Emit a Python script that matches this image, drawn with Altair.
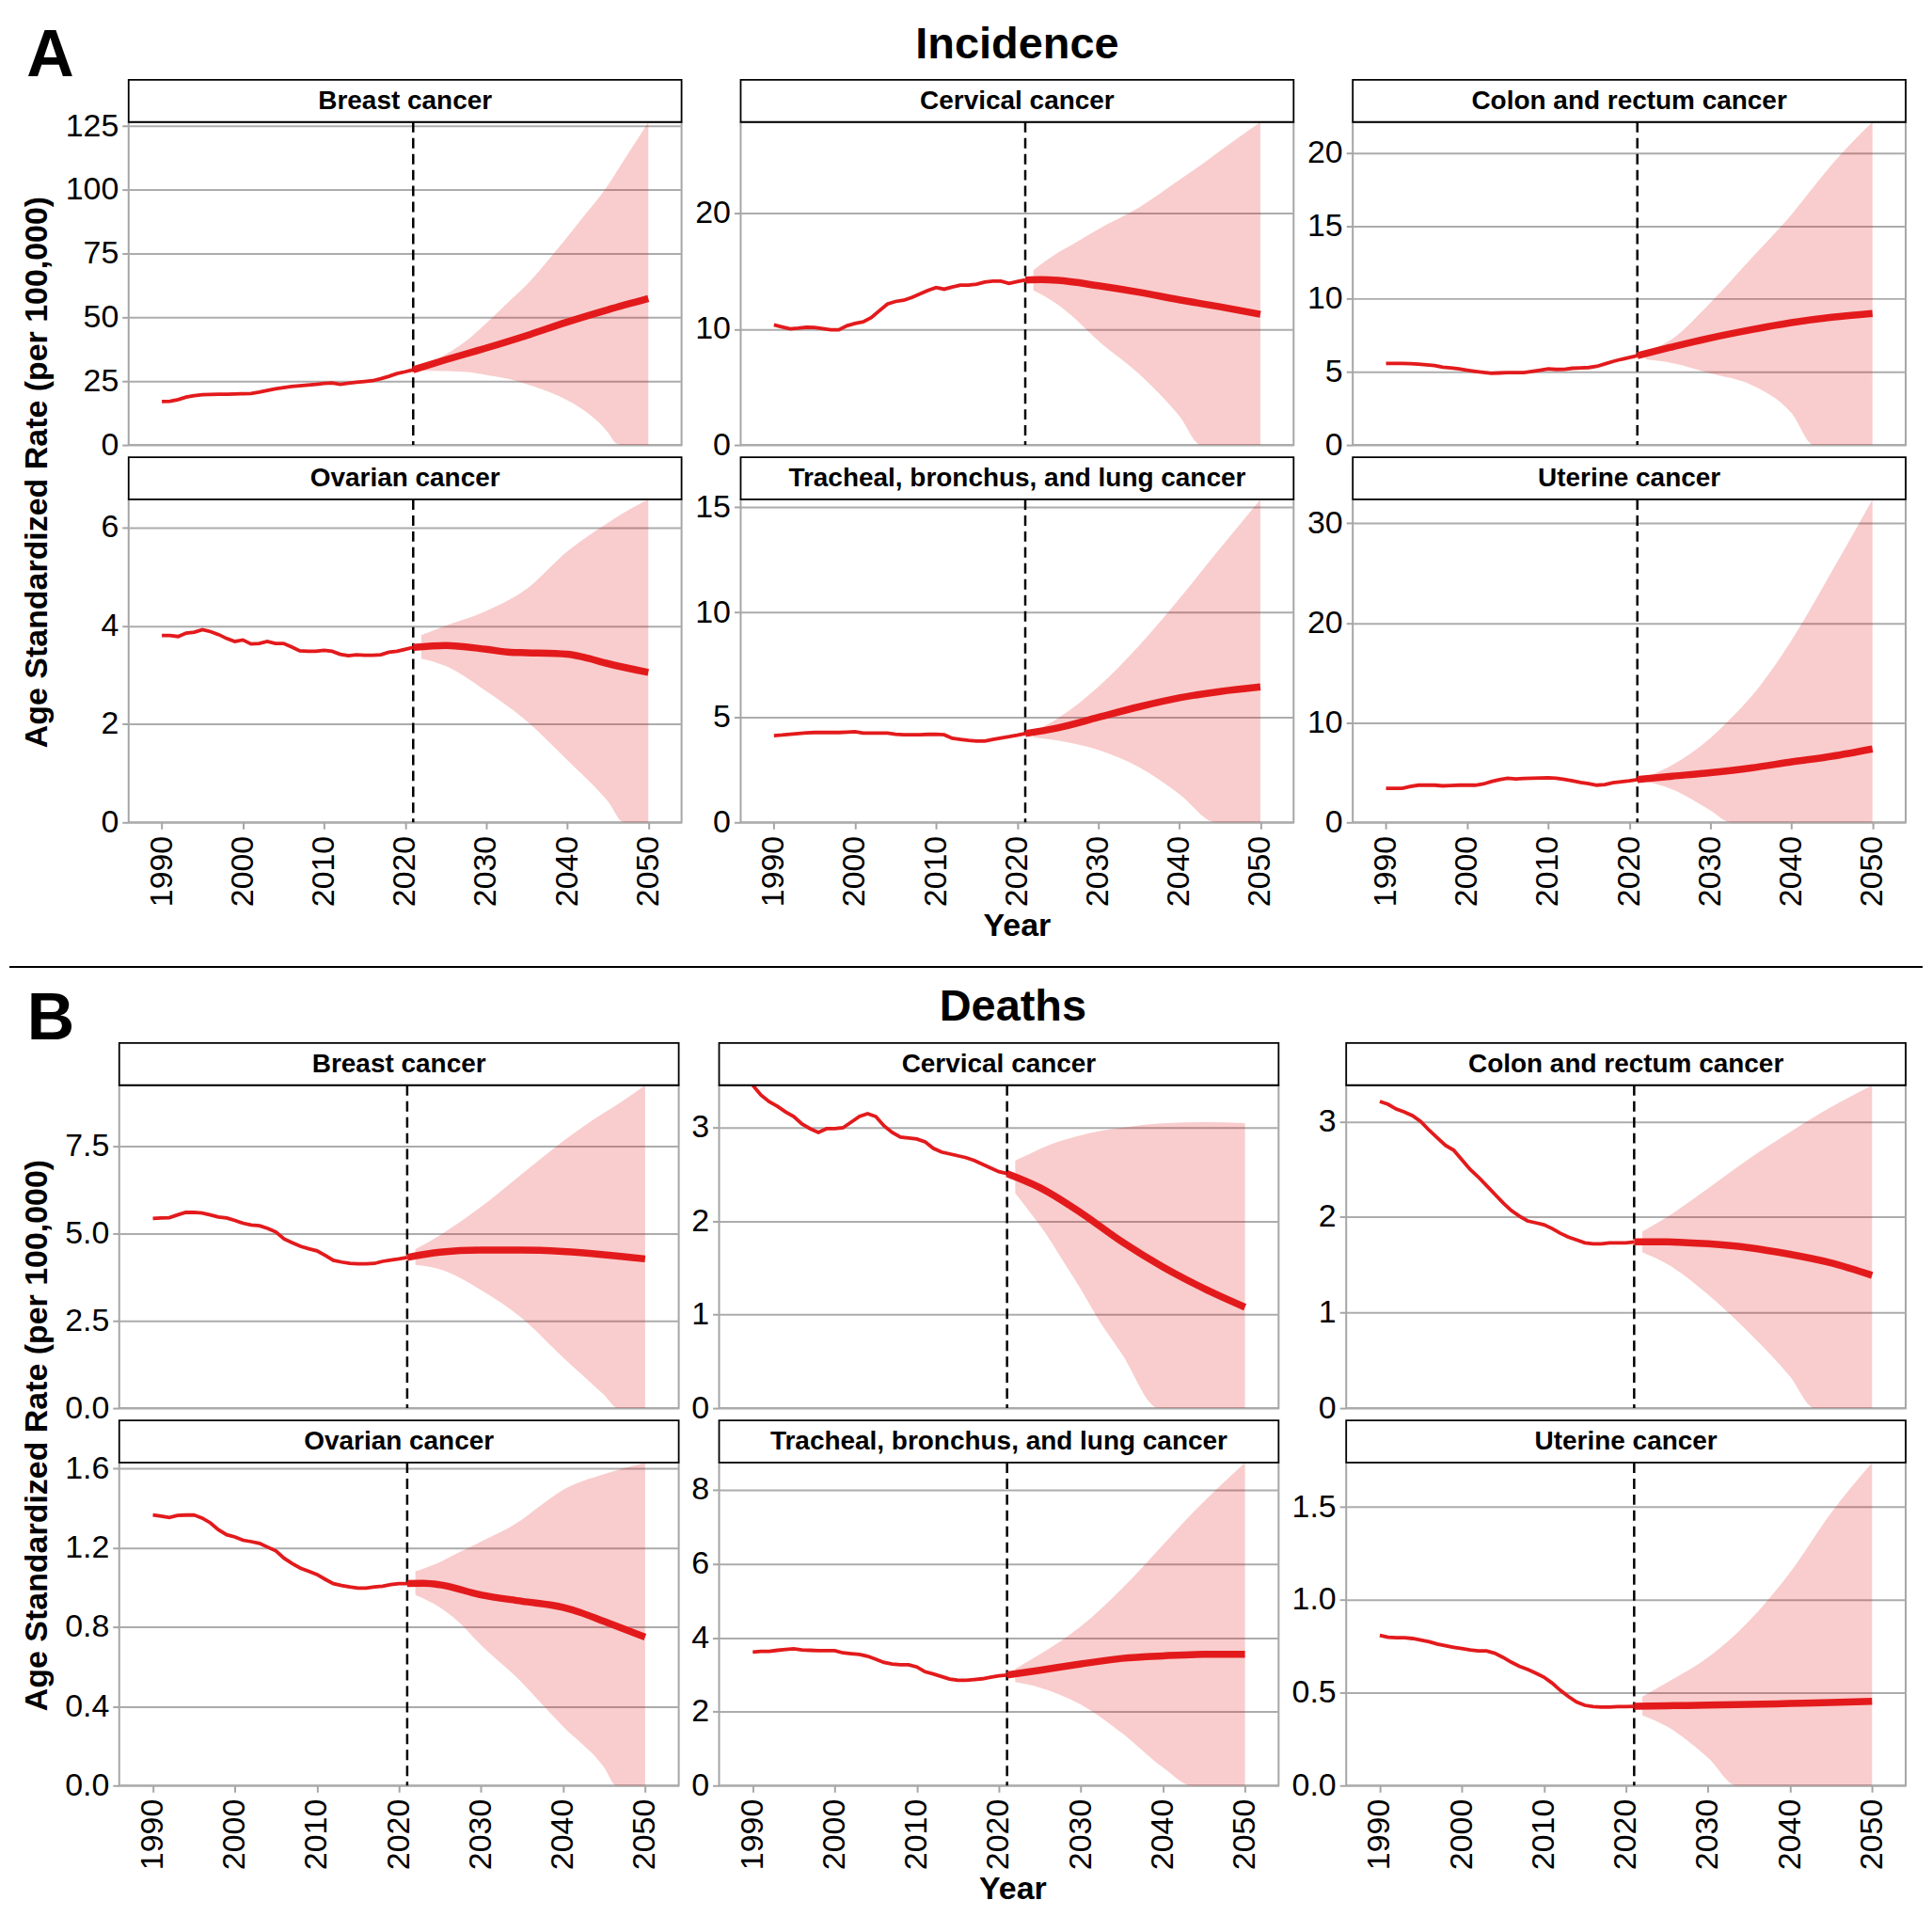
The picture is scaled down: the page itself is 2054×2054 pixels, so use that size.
import altair as alt
import pandas as pd

FONT = "Liberation Sans, Arial, Helvetica, sans-serif"
RED = "#E31A1C"
BAND_OPACITY = 0.22
GRID = "#acacac"
BORDER = "#a6a6a6"

HIST_YEARS = list(range(1990, 2022))
X_TICKS = [1990, 2000, 2010, 2020, 2030, 2040, 2050]
X_DOMAIN = [1985.9, 2054.1]
FORECAST_START = [2021]

TITLES = ["Breast cancer", "Cervical cancer", "Colon and rectum cancer",
          "Ovarian cancer", "Tracheal, bronchus, and lung cancer", "Uterine cancer"]

# ---------------- A: Incidence ----------------
inc_breast_hist = [17.0, 17.1, 17.8, 18.8, 19.3, 19.7, 19.8, 19.9, 19.9, 20.0, 20.1, 20.2, 20.7, 21.4, 22.0, 22.5,
                   22.9, 23.2, 23.5, 23.8, 24.1, 24.3, 23.8, 24.2, 24.6, 24.9, 25.2, 26.0, 26.9, 28.0, 28.7, 29.5]
inc_breast_fc_years = [2021, 2025, 2030, 2035, 2040, 2045, 2050]
inc_breast_fc = [29.5, 33.4, 38.0, 42.9, 48.2, 53.0, 57.4]
inc_breast_band_years = [2022, 2025, 2028, 2030, 2033, 2035, 2038, 2040, 2042, 2044, 2045, 2046, 2047, 2048, 2050]
inc_breast_lower = [29.2, 29.0, 28.5, 27.4, 25.7, 23.8, 20.5, 17.5, 13.7, 8.5, 5.0, 0.8, 0, 0, 0]
inc_breast_upper = [30.3, 35.5, 42.0, 47.7, 56.8, 62.8, 73.8, 81.5, 89.5, 97.4, 101.7, 106.7, 111.7, 116.6, 126.6]

inc_cerv_hist = [10.37, 10.2, 10.04, 10.1, 10.18, 10.15, 10.05, 9.95, 9.95, 10.3, 10.5, 10.64, 11.0, 11.6, 12.18, 12.40,
                 12.5, 12.75, 13.05, 13.35, 13.6, 13.46, 13.65, 13.81, 13.81, 13.9, 14.08, 14.15, 14.15, 13.95, 14.11, 14.25]
inc_cerv_fc_years = [2021, 2023, 2025, 2030, 2035, 2040, 2045, 2050]
inc_cerv_fc = [14.25, 14.28, 14.22, 13.76, 13.2, 12.54, 11.94, 11.29]
inc_cerv_band_years = [2022, 2025, 2027, 2030, 2035, 2040, 2042.7, 2045, 2050]
inc_cerv_lower = [13.35, 12.13, 11.0, 9.0, 6.16, 2.5, 0, 0, 0]
inc_cerv_upper = [15.1, 16.6, 17.4, 18.64, 20.5, 22.9, 24.2, 25.4, 27.9]

inc_crc_hist = [5.58, 5.58, 5.58, 5.56, 5.53, 5.48, 5.43, 5.32, 5.27, 5.21, 5.12, 5.04, 4.97, 4.91, 4.93, 4.95,
                4.95, 4.95, 5.03, 5.12, 5.21, 5.17, 5.18, 5.25, 5.28, 5.30, 5.38, 5.55, 5.72, 5.86, 5.98, 6.11]
inc_crc_fc_years = [2021, 2025, 2030, 2035, 2040, 2045, 2050]
inc_crc_fc = [6.11, 6.67, 7.32, 7.88, 8.37, 8.74, 9.0]
inc_crc_band_years = [2022, 2025, 2030, 2035, 2040, 2042.8, 2045, 2050]
inc_crc_lower = [5.86, 5.64, 4.9, 4.13, 2.2, 0, 0, 0]
inc_crc_upper = [6.39, 7.15, 9.73, 12.74, 15.76, 17.7, 19.2, 22.1]

inc_ov_hist = [3.80, 3.80, 3.78, 3.85, 3.87, 3.92, 3.88, 3.82, 3.74, 3.68, 3.71, 3.63, 3.64, 3.68, 3.64, 3.64,
               3.57, 3.49, 3.48, 3.48, 3.50, 3.48, 3.42, 3.39, 3.41, 3.40, 3.40, 3.41, 3.46, 3.48, 3.52, 3.56]
inc_ov_fc_years = [2021, 2025, 2030, 2033, 2035, 2040, 2042, 2045, 2050]
inc_ov_fc = [3.56, 3.60, 3.52, 3.46, 3.45, 3.42, 3.36, 3.23, 3.05]
inc_ov_band_years = [2022, 2025, 2030, 2035, 2040, 2045, 2047, 2050]
inc_ov_lower = [3.33, 3.18, 2.67, 2.06, 1.27, 0.43, 0, 0]
inc_ov_upper = [3.81, 4.0, 4.30, 4.75, 5.51, 6.09, 6.3, 6.57]

inc_lung_hist = [4.13, 4.16, 4.2, 4.23, 4.26, 4.28, 4.28, 4.28, 4.28, 4.3, 4.32, 4.25, 4.25, 4.25, 4.25, 4.2,
                 4.17, 4.17, 4.17, 4.19, 4.2, 4.17, 4.0, 3.95, 3.9, 3.87, 3.87, 3.95, 4.02, 4.08, 4.15, 4.23]
inc_lung_fc_years = [2021, 2025, 2030, 2035, 2040, 2045, 2050]
inc_lung_fc = [4.23, 4.5, 5.0, 5.5, 5.93, 6.23, 6.45]
inc_lung_band_years = [2022, 2025, 2030, 2035, 2040, 2044.5, 2050]
inc_lung_lower = [4.05, 3.9, 3.45, 2.63, 1.35, 0, 0]
inc_lung_upper = [4.32, 4.95, 6.45, 8.4, 10.65, 12.8, 15.38]

inc_ut_hist = [3.41, 3.41, 3.41, 3.6, 3.73, 3.75, 3.73, 3.66, 3.7, 3.73, 3.73, 3.73, 3.85, 4.1, 4.29, 4.42,
               4.36, 4.4, 4.42, 4.45, 4.48, 4.42, 4.3, 4.17, 4.0, 3.88, 3.73, 3.79, 3.98, 4.08, 4.17, 4.29]
inc_ut_fc_years = [2021, 2025, 2030, 2035, 2040, 2045, 2050]
inc_ut_fc = [4.29, 4.61, 4.99, 5.46, 6.06, 6.63, 7.36]
inc_ut_band_years = [2022, 2025, 2030, 2032.5, 2035, 2040, 2045, 2050]
inc_ut_lower = [4.1, 3.41, 1.2, 0, 0, 0, 0, 0]
inc_ut_upper = [4.52, 5.62, 8.46, 10.4, 12.57, 18.25, 25.2, 32.4]

# ---------------- B: Deaths ----------------
dth_breast_hist = [5.43, 5.44, 5.45, 5.53, 5.60, 5.60, 5.58, 5.53, 5.47, 5.44, 5.37, 5.29, 5.24, 5.22, 5.14, 5.04,
                   4.84, 4.73, 4.63, 4.56, 4.50, 4.37, 4.23, 4.18, 4.14, 4.13, 4.13, 4.14, 4.20, 4.24, 4.27, 4.31]
dth_breast_fc_years = [2021, 2025, 2030, 2035, 2040, 2045, 2050]
dth_breast_fc = [4.31, 4.46, 4.52, 4.52, 4.48, 4.39, 4.27]
dth_breast_band_years = [2022, 2025, 2030, 2035, 2040, 2045, 2046.7, 2050]
dth_breast_lower = [4.10, 3.97, 3.38, 2.57, 1.45, 0.38, 0, 0]
dth_breast_upper = [4.55, 4.95, 5.76, 6.70, 7.64, 8.45, 8.7, 9.24]

dth_cerv_hist = [3.455, 3.35, 3.28, 3.23, 3.17, 3.12, 3.04, 2.99, 2.95, 2.99, 2.99, 3.0, 3.06, 3.12, 3.15, 3.12,
                 3.02, 2.95, 2.90, 2.89, 2.88, 2.85, 2.78, 2.74, 2.72, 2.70, 2.68, 2.65, 2.61, 2.57, 2.53, 2.51]
dth_cerv_fc_years = [2021, 2025, 2030, 2035, 2040, 2045, 2050]
dth_cerv_fc = [2.51, 2.36, 2.09, 1.78, 1.51, 1.28, 1.08]
dth_cerv_band_years = [2022, 2024, 2026, 2028, 2030, 2032, 2035, 2039.5, 2045, 2050]
dth_cerv_lower = [2.30, 2.07, 1.83, 1.55, 1.27, 0.97, 0.58, 0, 0, 0]
dth_cerv_upper = [2.65, 2.73, 2.81, 2.87, 2.92, 2.96, 3.0, 3.045, 3.06, 3.05]

dth_crc_hist = [3.21, 3.18, 3.13, 3.10, 3.06, 3.0, 2.91, 2.83, 2.75, 2.70, 2.60, 2.50, 2.42, 2.33, 2.24, 2.15,
                2.07, 2.01, 1.96, 1.94, 1.92, 1.88, 1.83, 1.79, 1.76, 1.73, 1.72, 1.72, 1.73, 1.73, 1.73, 1.74]
dth_crc_fc_years = [2021, 2025, 2030, 2035, 2040, 2045, 2050]
dth_crc_fc = [1.74, 1.74, 1.72, 1.68, 1.61, 1.52, 1.39]
dth_crc_band_years = [2022, 2025, 2030, 2035, 2040, 2043, 2045, 2050]
dth_crc_lower = [1.63, 1.51, 1.19, 0.79, 0.33, 0, 0, 0]
dth_crc_upper = [1.85, 2.0, 2.30, 2.61, 2.89, 3.05, 3.15, 3.38]

dth_ov_hist = [1.366, 1.36, 1.353, 1.363, 1.365, 1.366, 1.35, 1.326, 1.291, 1.266, 1.255, 1.238, 1.231, 1.222, 1.203, 1.184,
               1.147, 1.12, 1.097, 1.081, 1.065, 1.041, 1.019, 1.01, 1.002, 0.997, 0.997, 1.002, 1.006, 1.014, 1.019, 1.019]
dth_ov_fc_years = [2021, 2023, 2025, 2030, 2035, 2040, 2042, 2045, 2050]
dth_ov_fc = [1.02, 1.021, 1.013, 0.962, 0.93, 0.899, 0.875, 0.828, 0.749]
dth_ov_band_years = [2022, 2025, 2027, 2030, 2035, 2037, 2040, 2045, 2046.5, 2050]
dth_ov_lower = [0.962, 0.899, 0.836, 0.709, 0.519, 0.43, 0.298, 0.092, 0, 0]
dth_ov_upper = [1.081, 1.128, 1.17, 1.231, 1.342, 1.405, 1.492, 1.571, 1.59, 1.63]

dth_lung_hist = [3.61, 3.63, 3.63, 3.66, 3.68, 3.70, 3.67, 3.66, 3.65, 3.65, 3.65, 3.59, 3.57, 3.55, 3.50, 3.42,
                 3.33, 3.29, 3.27, 3.27, 3.21, 3.08, 3.02, 2.95, 2.88, 2.85, 2.85, 2.87, 2.89, 2.93, 2.97, 2.99]
dth_lung_fc_years = [2021, 2025, 2030, 2035, 2040, 2045, 2050]
dth_lung_fc = [2.99, 3.12, 3.29, 3.44, 3.51, 3.55, 3.55]
dth_lung_band_years = [2022, 2025, 2030, 2035, 2040, 2043.5, 2050]
dth_lung_lower = [2.80, 2.65, 2.19, 1.42, 0.49, 0, 0]
dth_lung_upper = [3.16, 3.55, 4.31, 5.33, 6.51, 7.35, 8.74]

dth_ut_hist = [0.809, 0.799, 0.796, 0.796, 0.792, 0.784, 0.775, 0.762, 0.753, 0.745, 0.738, 0.730, 0.725, 0.725, 0.713, 0.691,
               0.665, 0.643, 0.626, 0.606, 0.584, 0.552, 0.513, 0.479, 0.450, 0.432, 0.425, 0.423, 0.423, 0.425, 0.425, 0.427]
dth_ut_fc_years = [2021, 2025, 2030, 2035, 2040, 2045, 2050]
dth_ut_fc = [0.427, 0.43, 0.433, 0.437, 0.442, 0.447, 0.454]
dth_ut_band_years = [2022, 2025, 2030, 2033.5, 2040, 2045, 2050]
dth_ut_lower = [0.378, 0.318, 0.15, 0, 0, 0, 0]
dth_ut_upper = [0.479, 0.555, 0.691, 0.82, 1.148, 1.469, 1.74]

# y tick values per panel
ticks_inc = [[0, 25, 50, 75, 100, 125], [0, 10, 20], [0, 5, 10, 15, 20], [0, 2, 4, 6], [0, 5, 10, 15], [0, 10, 20, 30]]
ticks_dth = [[0, 2.5, 5, 7.5], [0, 1, 2, 3], [0, 1, 2, 3], [0, 0.4, 0.8, 1.2, 1.6], [0, 2, 4, 6, 8], [0, 0.5, 1, 1.5]]
fmt_inc = ["d", "d", "d", "d", "d", "d"]
fmt_dth = [".1f", "d", "d", ".1f", "d", ".1f"]

# ---------------- layout constants ----------------
W_A = 589
W_B = 596
H = 344
STRIP_H = 45
ROW_SPACING = 58

one = pd.DataFrame({"k": [0]})


def txt(s, x, y, size, angle=0, baseline="alphabetic"):
    return alt.Chart(one).mark_text(text=s, font=FONT, fontSize=size, fontWeight="bold", color="black",
                                    align="center", baseline=baseline, angle=angle).encode(
        x=alt.value(x), y=alt.value(y))


def hrule(x1, x2, y, color, width):
    return alt.Chart(one).mark_rule(color=color, strokeWidth=width).encode(
        x=alt.value(x1), x2=alt.value(x2), y=alt.value(y))


def panel(title, hist, fc_years, fc, band_years, lower, upper, yticks, yfmt, width, bottom, extras=()):
    ymax = max(max(hist), max(fc), max(upper))
    xs = alt.Scale(domain=X_DOMAIN, nice=False, zero=False)
    ys = alt.Scale(domain=[0, ymax], nice=False, zero=False)
    if bottom:
        xax = alt.Axis(values=X_TICKS, format="d", labelAngle=270, grid=False, title=None, labelPadding=7)
    else:
        xax = None
    yax = alt.Axis(values=yticks, format=yfmt, title=None, grid=True)

    d_hist = pd.DataFrame({"year": HIST_YEARS, "v": hist})
    d_fc = pd.DataFrame({"year": fc_years, "v": fc})
    d_band = pd.DataFrame({"year": band_years, "lo": lower, "up": upper})
    d_start = pd.DataFrame({"year": FORECAST_START})

    band = alt.Chart(d_band).mark_area(color=RED, opacity=BAND_OPACITY, interpolate="monotone").encode(
        x=alt.X("year:Q", scale=xs, axis=xax),
        y=alt.Y("lo:Q", scale=ys, axis=yax),
        y2=alt.Y2("up:Q"))
    vline = alt.Chart(d_start).mark_rule(color="black", strokeWidth=2.5, strokeDash=[11, 6]).encode(
        x=alt.X("year:Q", scale=xs, axis=xax))
    hline = alt.Chart(d_hist).mark_line(color=RED, strokeWidth=3.8).encode(
        x=alt.X("year:Q", scale=xs, axis=xax),
        y=alt.Y("v:Q", scale=ys, axis=yax))
    fline = alt.Chart(d_fc).mark_line(color=RED, strokeWidth=7.5, interpolate="monotone").encode(
        x=alt.X("year:Q", scale=xs, axis=xax),
        y=alt.Y("v:Q", scale=ys, axis=yax))
    strip = alt.Chart(one).mark_rect(fill="white", stroke="black", strokeWidth=1.8).encode(
        x=alt.value(0), x2=alt.value(width), y=alt.value(-STRIP_H), y2=alt.value(0))
    strip_text = alt.Chart(one).mark_text(text=title, font=FONT, fontSize=28, fontWeight="bold",
                                          color="black", align="center", baseline="middle").encode(
        x=alt.value(width / 2), y=alt.value(-STRIP_H / 2 + 1))
    layers = [band, vline, hline, fline, strip, strip_text] + list(extras)
    return alt.layer(*layers).properties(width=width, height=H)


YTITLE = "Age Standardized Rate (per 100,000)"

inc = [
    (inc_breast_hist, inc_breast_fc_years, inc_breast_fc, inc_breast_band_years, inc_breast_lower, inc_breast_upper),
    (inc_cerv_hist, inc_cerv_fc_years, inc_cerv_fc, inc_cerv_band_years, inc_cerv_lower, inc_cerv_upper),
    (inc_crc_hist, inc_crc_fc_years, inc_crc_fc, inc_crc_band_years, inc_crc_lower, inc_crc_upper),
    (inc_ov_hist, inc_ov_fc_years, inc_ov_fc, inc_ov_band_years, inc_ov_lower, inc_ov_upper),
    (inc_lung_hist, inc_lung_fc_years, inc_lung_fc, inc_lung_band_years, inc_lung_lower, inc_lung_upper),
    (inc_ut_hist, inc_ut_fc_years, inc_ut_fc, inc_ut_band_years, inc_ut_lower, inc_ut_upper),
]
dth = [
    (dth_breast_hist, dth_breast_fc_years, dth_breast_fc, dth_breast_band_years, dth_breast_lower, dth_breast_upper),
    (dth_cerv_hist, dth_cerv_fc_years, dth_cerv_fc, dth_cerv_band_years, dth_cerv_lower, dth_cerv_upper),
    (dth_crc_hist, dth_crc_fc_years, dth_crc_fc, dth_crc_band_years, dth_crc_lower, dth_crc_upper),
    (dth_ov_hist, dth_ov_fc_years, dth_ov_fc, dth_ov_band_years, dth_ov_lower, dth_ov_upper),
    (dth_lung_hist, dth_lung_fc_years, dth_lung_fc, dth_lung_band_years, dth_lung_lower, dth_lung_upper),
    (dth_ut_hist, dth_ut_fc_years, dth_ut_fc, dth_ut_band_years, dth_ut_lower, dth_ut_upper),
]

extras_A = {
    0: [txt("A", -83.5, -49, 70), txt(YTITLE, -97, 373, 34, angle=270, baseline="middle"),
        hrule(0, 50, -118.5, "white", 1)],
    1: [txt("Incidence", W_A / 2, -68, 47)],
    3: [hrule(-127, 1911, 498, "black", 2)],
    4: [txt("Year", W_A / 2, 465, 34)],
}
extras_B = {
    0: [txt("B", -73, -49, 70), txt(YTITLE, -87, 373, 34, angle=270, baseline="middle")],
    1: [txt("Deaths", 313, -69, 47)],
    4: [txt("Year", 313, 465, 34)],
}

pa = [panel(TITLES[i], *inc[i], ticks_inc[i], fmt_inc[i], W_A, i >= 3, extras_A.get(i, [])) for i in range(6)]
pb = [panel(TITLES[i], *dth[i], ticks_dth[i], fmt_dth[i], W_B, i >= 3, extras_B.get(i, [])) for i in range(6)]

# With flush bounds, unit panels keep their own size in the layout, while nested
# concatenations count as zero-sized, so spacings between nested groups are origin-to-origin.
colA = [alt.vconcat(pa[i], pa[i + 3], spacing=ROW_SPACING, bounds="flush") for i in range(3)]
colB = [alt.vconcat(pb[i], pb[i + 3], spacing=ROW_SPACING, bounds="flush") for i in range(3)]

spacer = alt.Chart(one).mark_rect(fill="white", stroke="white", strokeWidth=4).encode(
    x=alt.value(0), x2=alt.value(10), y=alt.value(0), y2=alt.value(1)
).properties(width=10, height=1)

rowA = alt.hconcat(*colA, spacing=W_A + 63, bounds="flush")
secA = alt.hconcat(spacer, rowA, spacing=0, bounds="flush")
secB = alt.hconcat(alt.hconcat(colB[0], colB[1], spacing=W_B + 43, bounds="flush"), colB[2],
                   spacing=2 * W_B + 43 + 72, bounds="flush")

chart = alt.vconcat(secA, secB, spacing=1026, bounds="flush").properties(
    padding=0, background="white"
).configure_view(
    stroke=BORDER, strokeWidth=2
).configure_axis(
    labelFont=FONT, labelFontSize=34, labelColor="black", tickColor=BORDER, tickWidth=2, tickSize=7,
    domain=False, gridColor=GRID, gridWidth=2, labelPadding=4, labelOverlap=False, labelFlush=False
)

chart.save("out.html", embed_options={"renderer": "svg", "actions": False})
